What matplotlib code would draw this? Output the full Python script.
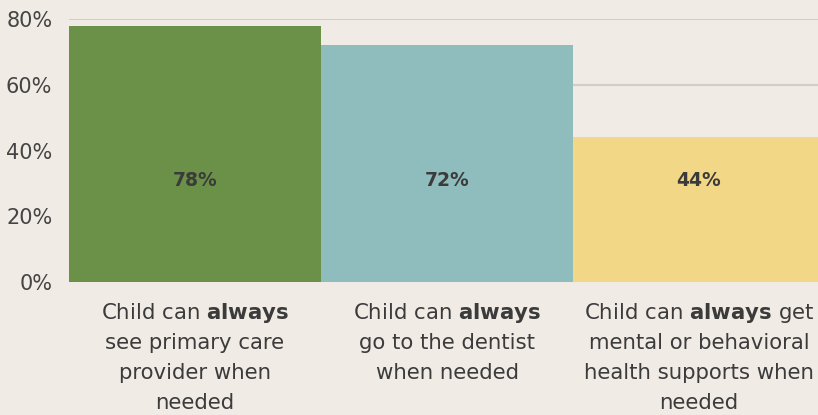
import matplotlib
matplotlib.use("Agg")
import matplotlib.pyplot as plt

# data
categories = [
    ["Child can $\\mathbf{always}$", "see primary care", "provider when", "needed"],
    ["Child can $\\mathbf{always}$", "go to the dentist", "when needed"],
    ["Child can $\\mathbf{always}$ get", "mental or behavioral", "health supports when", "needed"],
]
values = [78, 72, 44]
value_labels = ["78%", "72%", "44%"]
yticks = [0, 20, 40, 60, 80]
ytick_labels = ["0%", "20%", "40%", "60%", "80%"]

colors = ["#6b9149", "#8fbdbd", "#f2d886"]
BG = "#f0ebe5"
TEXT = "#3b3b3b"

plt.rcParams['font.family'] = ['DejaVu Sans']
plt.rcParams['mathtext.fontset'] = 'dejavusans'

DPI = 100
fig = plt.figure(figsize=(8.18, 4.15), dpi=DPI, facecolor=BG)
ax = fig.add_axes([69 / 818, 1 - 282 / 415, 756 / 818, (282 - 19) / 415])
ax.set_facecolor(BG)

x = list(range(len(values)))
ax.bar(x, values, width=1.0, color=colors, zorder=2)
ax.set_xlim(-0.5, len(values) - 0.5)
ax.set_ylim(0, 80)

ax.set_yticks(yticks)
ax.set_yticklabels(ytick_labels, fontsize=15, color="#444444")
ax.tick_params(axis='y', length=0, pad=12)
ax.set_xticks([])
ax.yaxis.grid(True, color="#d2cdc6", linewidth=1.5, zorder=0)
for s in ax.spines.values():
    s.set_visible(False)

# value labels at fixed height
for i, lab in enumerate(value_labels):
    ax.text(i, 31, lab, ha='center', va='center', fontsize=13.5,
            fontweight='bold', color=TEXT, zorder=3)

# category labels, one line at a time
line_px = 30
for i, lines in enumerate(categories):
    for j, line in enumerate(lines):
        ax.annotate(line, xy=(i, 0), xycoords=('data', 'axes fraction'),
                    xytext=(0, (-31 - j * line_px) * 72 / DPI),
                    textcoords='offset points', ha='center', va='center',
                    fontsize=15.3, color=TEXT, annotation_clip=False)

fig.savefig("out.png", dpi=DPI, facecolor=BG)
